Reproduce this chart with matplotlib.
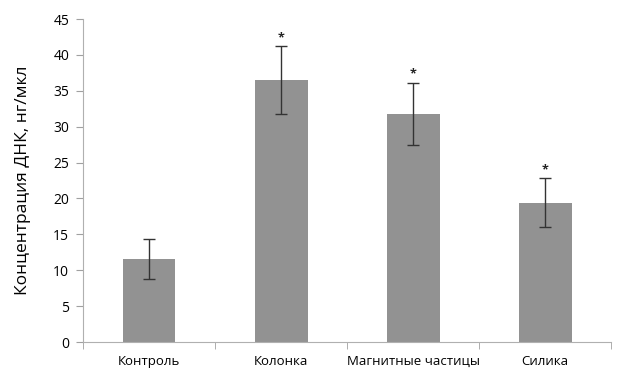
import matplotlib
matplotlib.use("Agg")
import matplotlib.pyplot as plt
import numpy as np

categories = ["Контроль", "Колонка", "Магнитные частицы", "Силика"]
values = [11.6, 36.5, 31.8, 19.4]
errors = [2.8, 4.7, 4.3, 3.4]
marks = ["", "*", "*", "*"]

plt.rcParams['font.family'] = ['Open Sans', 'DejaVu Sans']

fig = plt.figure(figsize=(6.44, 3.69), dpi=100)
ax = fig.add_axes([0.129, 0.073, 0.82, 0.8755])

x = np.arange(len(categories))
ax.bar(x, values, width=0.4, color="#929292", zorder=2)
ax.errorbar(x, values, yerr=errors, fmt="none", ecolor="#333333", elinewidth=1.0,
            capsize=4, capthick=1.0, zorder=3)
for xi, v, e, m in zip(x, values, errors, marks):
    if m:
        ax.text(xi, v + e + 0.3, m, ha="center", va="bottom", fontsize=9,
                fontweight="bold", color="#222222")

ax.set_xlim(-0.5, len(categories) - 0.5)
ax.set_ylim(0, 45)
ax.set_yticks(np.arange(0, 46, 5))
ax.set_xticks(x)
ax.set_xticklabels(categories, fontsize=9.5)
ax.set_xticks(np.arange(-0.5, len(categories)), minor=True)
ax.tick_params(axis="x", which="major", length=0, pad=9)
ax.tick_params(axis="x", which="minor", length=5, color="#a0a0a0", direction="out")
ax.tick_params(axis="y", length=5, color="#a0a0a0", labelsize=10, pad=5)
for s in ["top", "right"]:
    ax.spines[s].set_visible(False)
for s in ["left", "bottom"]:
    ax.spines[s].set_color("#b0b0b0")
    ax.spines[s].set_linewidth(0.8)
ax.set_ylabel("Концентрация ДНК, нг/мкл", fontsize=12.5, labelpad=16)

fig.savefig("out.png", dpi=100)
